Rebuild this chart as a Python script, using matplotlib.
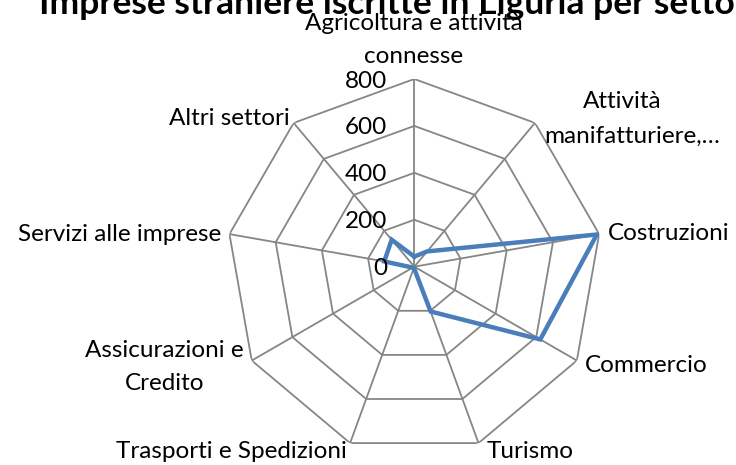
import numpy as np
import matplotlib
matplotlib.use("Agg")
import matplotlib.pyplot as plt

plt.rcParams['font.family'] = ['Lato', 'DejaVu Sans']

# settori in ordine orario partendo dall'alto
settori = ["Agricoltura e attività connesse", "Attività manifatturiere,…", "Costruzioni",
           "Commercio", "Turismo", "Trasporti e Spedizioni", "Assicurazioni e Credito",
           "Servizi alle imprese", "Altri settori"]
imprese = [43, 85, 790, 620, 203, 5, 8, 130, 150]
anelli = [0, 200, 400, 600, 800]

W, H = 736, 465
fig = plt.figure(figsize=(W / 100, H / 100), dpi=100)
# centro ~ (414, 267) px, raggio ~ 188 px
cx, cy, R = 414.3, 266.7, 187.7
ax = fig.add_axes([(cx - R) / W, 1 - (cy + R) / H, 2 * R / W, 2 * R / H], projection='polar')
ax.set_theta_offset(np.pi / 2)
ax.set_theta_direction(-1)
ax.set_ylim(0, 800)
ax.grid(False)
ax.spines['polar'].set_visible(False)
ax.set_xticks([])
ax.set_yticks([])
ax.patch.set_alpha(0)

n = len(settori)
ang = np.linspace(0, 2 * np.pi, n, endpoint=False)
ang_c = np.append(ang, ang[0])

grigio = '#868686'
for r in anelli[1:]:
    ax.plot(ang_c, [r] * (n + 1), color=grigio, lw=1.3, zorder=1)
for a in ang:
    ax.plot([a, a], [0, 800], color=grigio, lw=1.3, zorder=1)

vals = np.append(imprese, imprese[0])
ax.plot(ang_c, vals, color='#4a7ebb', lw=3.2, solid_joinstyle='miter', zorder=3)

fs = 17.5
for r in anelli:
    ax.annotate(str(r), (0, r), xytext=(-27, -2), textcoords='offset pixels',
                ha='right', va='center', fontsize=fs, annotation_clip=False)

# etichette delle categorie: una riga per volta, (testo, x, baseline, allineamento)
righe = [
    ("Agricoltura e attività", 414, 30, 'center'),
    ("connesse", 414, 63, 'center'),
    ("Attività", 622, 108, 'center'),
    ("manifatturiere,…", 632, 143, 'center'),
    ("Costruzioni", 608, 240, 'left'),
    ("Commercio", 585, 372, 'left'),
    ("Turismo", 530, 458, 'center'),
    ("Trasporti e Spedizioni", 231, 458, 'center'),
    ("Assicurazioni e", 164, 357, 'center'),
    ("Credito", 165, 390, 'center'),
    ("Servizi alle imprese", 221, 241, 'right'),
    ("Altri settori", 229, 125, 'center'),
]
for txt, x, y, ha in righe:
    fig.text(x / W, 1 - y / H, txt, ha=ha, va='baseline', fontsize=fs)

fig.text(403 / W, 1 - 14 / H, "Imprese straniere iscritte in Liguria per settore",
         ha='center', va='baseline', fontsize=25.5, fontweight='bold')

fig.savefig("out.png", dpi=100)
